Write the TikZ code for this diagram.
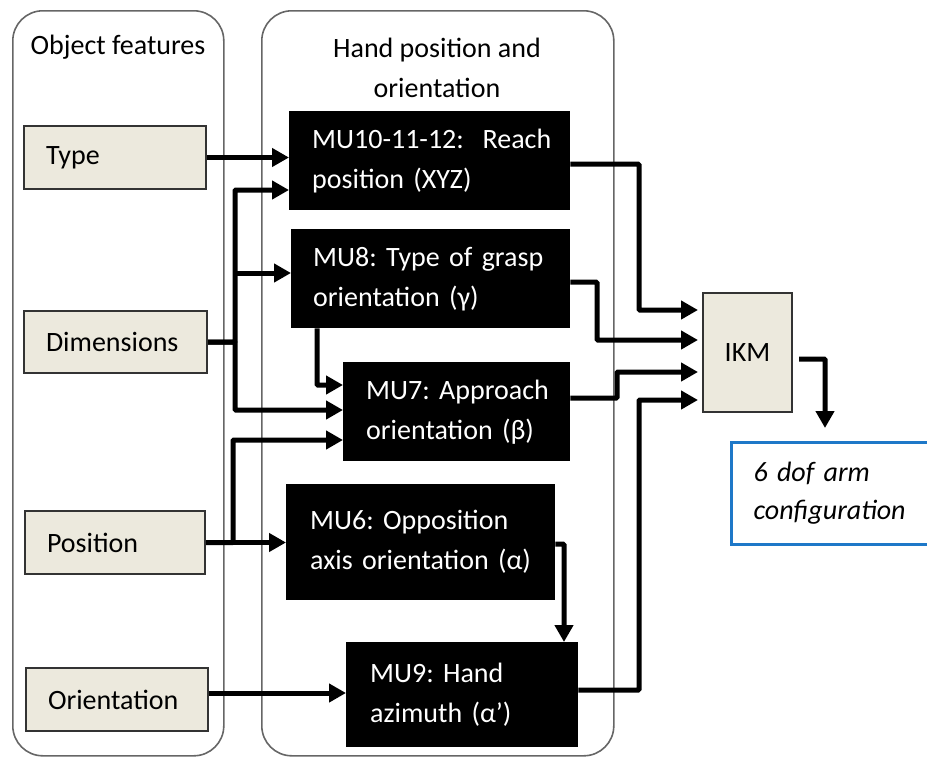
\documentclass[tikz,border=0pt]{standalone}
\usepackage{fontspec}
\setmainfont{Carlito}
\usetikzlibrary{arrows.meta,calc}
\definecolor{beige}{RGB}{236,233,221}
\definecolor{outblue}{RGB}{30,120,200}
\frenchspacing
\begin{document}
\begin{tikzpicture}[x=1pt,y=-1pt,
  every node/.style={font=\fontsize{28}{40}\selectfont},
  cont/.style={draw=black!60,line width=1.6pt,rounded corners=30pt,anchor=north west,inner sep=0pt},
  feat/.style={draw=black!80,line width=2pt,fill=beige,anchor=north west,inner xsep=22pt,inner ysep=0pt,align=left},
  mu/.style={fill=black,text=white,anchor=north west,inner ysep=0pt,align=left},
  arr/.style={line width=5pt,-{Triangle[length=17pt,width=18pt]},rounded corners=1pt},
]
\useasboundingbox (0,0) rectangle (927,758);
% containers
\node[cont,minimum width=211pt,minimum height=745pt] (lc) at (12,10) {};
\node[cont,minimum width=352pt,minimum height=745pt] (rc) at (261,10) {};
\node (t1) at (118,47) {Object features};
\node[align=center] (t2) at (437,67.5) {Hand position and\\orientation};
% features
\node[feat,text width=138pt,minimum height=63pt] (type) at (23,125) {Type};
\node[feat,text width=139pt,minimum height=62pt] (dims) at (23,310) {Dimensions};
\node[feat,text width=136pt,minimum height=63pt] (pos) at (24,510) {Position};
\node[feat,text width=138pt,minimum height=63pt] (ori) at (25,667) {Orientation};
% motor units
\node[mu,inner xsep=23pt,text width=235pt,minimum height=99pt] (mu10) at (289,111) {\mbox{MU10-11-12:~~Reach}\\position (XYZ)};
\node[mu,inner xsep=22pt,text width=235pt,minimum height=99pt] (mu8) at (291,229) {\mbox{MU8: Type of grasp}\\orientation (γ)};
\node[mu,inner xsep=23pt,text width=181pt,minimum height=99pt] (mu7) at (343,362) {\mbox{MU7: Approach}\\orientation (β)};
\node[mu,inner xsep=24pt,text width=221pt,minimum height=116pt] (mu6) at (286,484) {\mbox{MU6: Opposition}\\\mbox{axis orientation (α)}};
\node[mu,inner xsep=24pt,text width=184pt,minimum height=105pt] (mu9) at (346,642) {MU9: Hand\\azimuth (α’)};
% IKM and output
\node[draw=black!80,line width=2pt,fill=beige,anchor=north west,minimum width=89pt,minimum height=119pt,inner sep=0pt] (ikm) at (702,292) {IKM};
\node[draw=outblue,line width=3pt,anchor=north west,minimum width=215pt,minimum height=102pt,inner xsep=22pt,inner ysep=0pt,text width=171pt,align=left,font=\fontsize{28}{38}\selectfont\itshape] (out) at (730,441) {6 dof arm\\configuration};
% connectors
\coordinate (b1) at (235,190);
\coordinate (b2) at (235,273);
\coordinate (b3) at (235,410);
\draw[arr] (type.east) -- (type.east -| mu10.west);
\draw[arr] (dims.east) -| (b1) -- (b1 -| mu10.west);
\draw[arr] (b2) -- (b2 -| mu8.west);
\draw[arr] (dims.east) -| (b3) -- (b3 -| mu7.west);
\coordinate (c87) at (317,385);
\draw[arr] (c87 |- mu8.south) -- (c87) -- (c87 -| mu7.west);
\coordinate (p1) at (233,440);
\draw[arr] (pos.east) -- (pos.east -| mu6.west);
\draw[arr] (pos.east) -| (p1) -- (p1 -| mu7.west);
\coordinate (oe) at ([yshift=6.5pt]ori.east);
\draw[arr] (oe) -- (oe -| mu9.west);
\coordinate (k1) at (639,310);
\coordinate (k2) at (597,340);
\coordinate (k3) at (617,372);
\coordinate (k4) at (639,400);
\draw[arr] ($(mu10.east)+(0,3.5)$) -| (k1) -- ($(k1 -| ikm.west)+(-4,0)$);
\draw[arr] ($(mu8.east)+(0,3.5)$) -| (k2) -- ($(k2 -| ikm.west)+(-4,0)$);
\draw[arr] ($(mu7.east)+(0,-13.5)$) -| (k3) -- ($(k3 -| ikm.west)+(-4,0)$);
\draw[arr] ($(mu9.east)+(0,-4.5)$) -| (k4) -- ($(k4 -| ikm.west)+(-4,0)$);
\coordinate (m69) at (564,600);
\draw[arr] ($(mu6.east)+(0,2)$) -| (m69 |- mu9.north);
\coordinate (o1) at (825,428);
\draw[arr] ($(ikm.east)+(6,6.5)$) -| (o1);
\end{tikzpicture}
\end{document}
